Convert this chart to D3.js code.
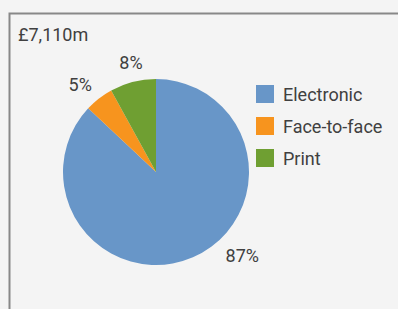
<!DOCTYPE html>
<html><head><meta charset="utf-8">
<script src="https://cdn.jsdelivr.net/npm/d3@7"></script>
<style>
html,body{margin:0;padding:0;background:#f4f4f4;}
svg{display:block;}
text{font-family:Roboto,sans-serif;fill:#404040;}
</style></head>
<body><svg id="c" width="398" height="309"></svg>
<script>
const title = "£7,110m";
const categories = ["Electronic", "Face-to-face", "Print"];
const values = [87, 5, 8];
const colors = ["#6896c8", "#f7941e", "#6f9f32"];

const svg = d3.select("#c");
svg.append("rect").attr("width",398).attr("height",309).attr("fill","#f4f4f4");
svg.append("path").attr("d","M9.5,309 V13.5 H398").attr("fill","none").attr("stroke","#888").attr("stroke-width",2);

svg.append("text").attr("x",18).attr("y",41).attr("font-size",18).text(title);

const cx = 156, cy = 172, r = 93;
const pie = d3.pie().sort(null).value(d=>d)(values);
const arc = d3.arc().innerRadius(0).outerRadius(r);
const g = svg.append("g").attr("transform",`translate(${cx},${cy})`);
g.selectAll("path").data(pie).join("path").attr("d",arc).attr("fill",(d,i)=>colors[i]);

// label placement (best-fit style): angle shift (deg) and radius per label
const labelShift = [-22.6, -3, 1.5];
const labelRad = [120, 116, 112];
g.selectAll("text").data(pie).join("text")
  .attr("transform",(d,i)=>{
    const a = (d.startAngle + d.endAngle)/2 + labelShift[i]*Math.PI/180;
    return `translate(${Math.sin(a)*labelRad[i]},${-Math.cos(a)*labelRad[i]})`;
  })
  .attr("text-anchor","middle").attr("dy","0.36em")
  .attr("font-size",18).text(d=>d.data+"%");

const leg = svg.append("g");
categories.forEach((c,i)=>{
  const y = 85 + i*32;
  leg.append("rect").attr("x",256).attr("y",y).attr("width",18).attr("height",18).attr("fill",colors[i]);
  leg.append("text").attr("x",283).attr("y",y+16).attr("font-size",18).text(c);
});
</script></body></html>
